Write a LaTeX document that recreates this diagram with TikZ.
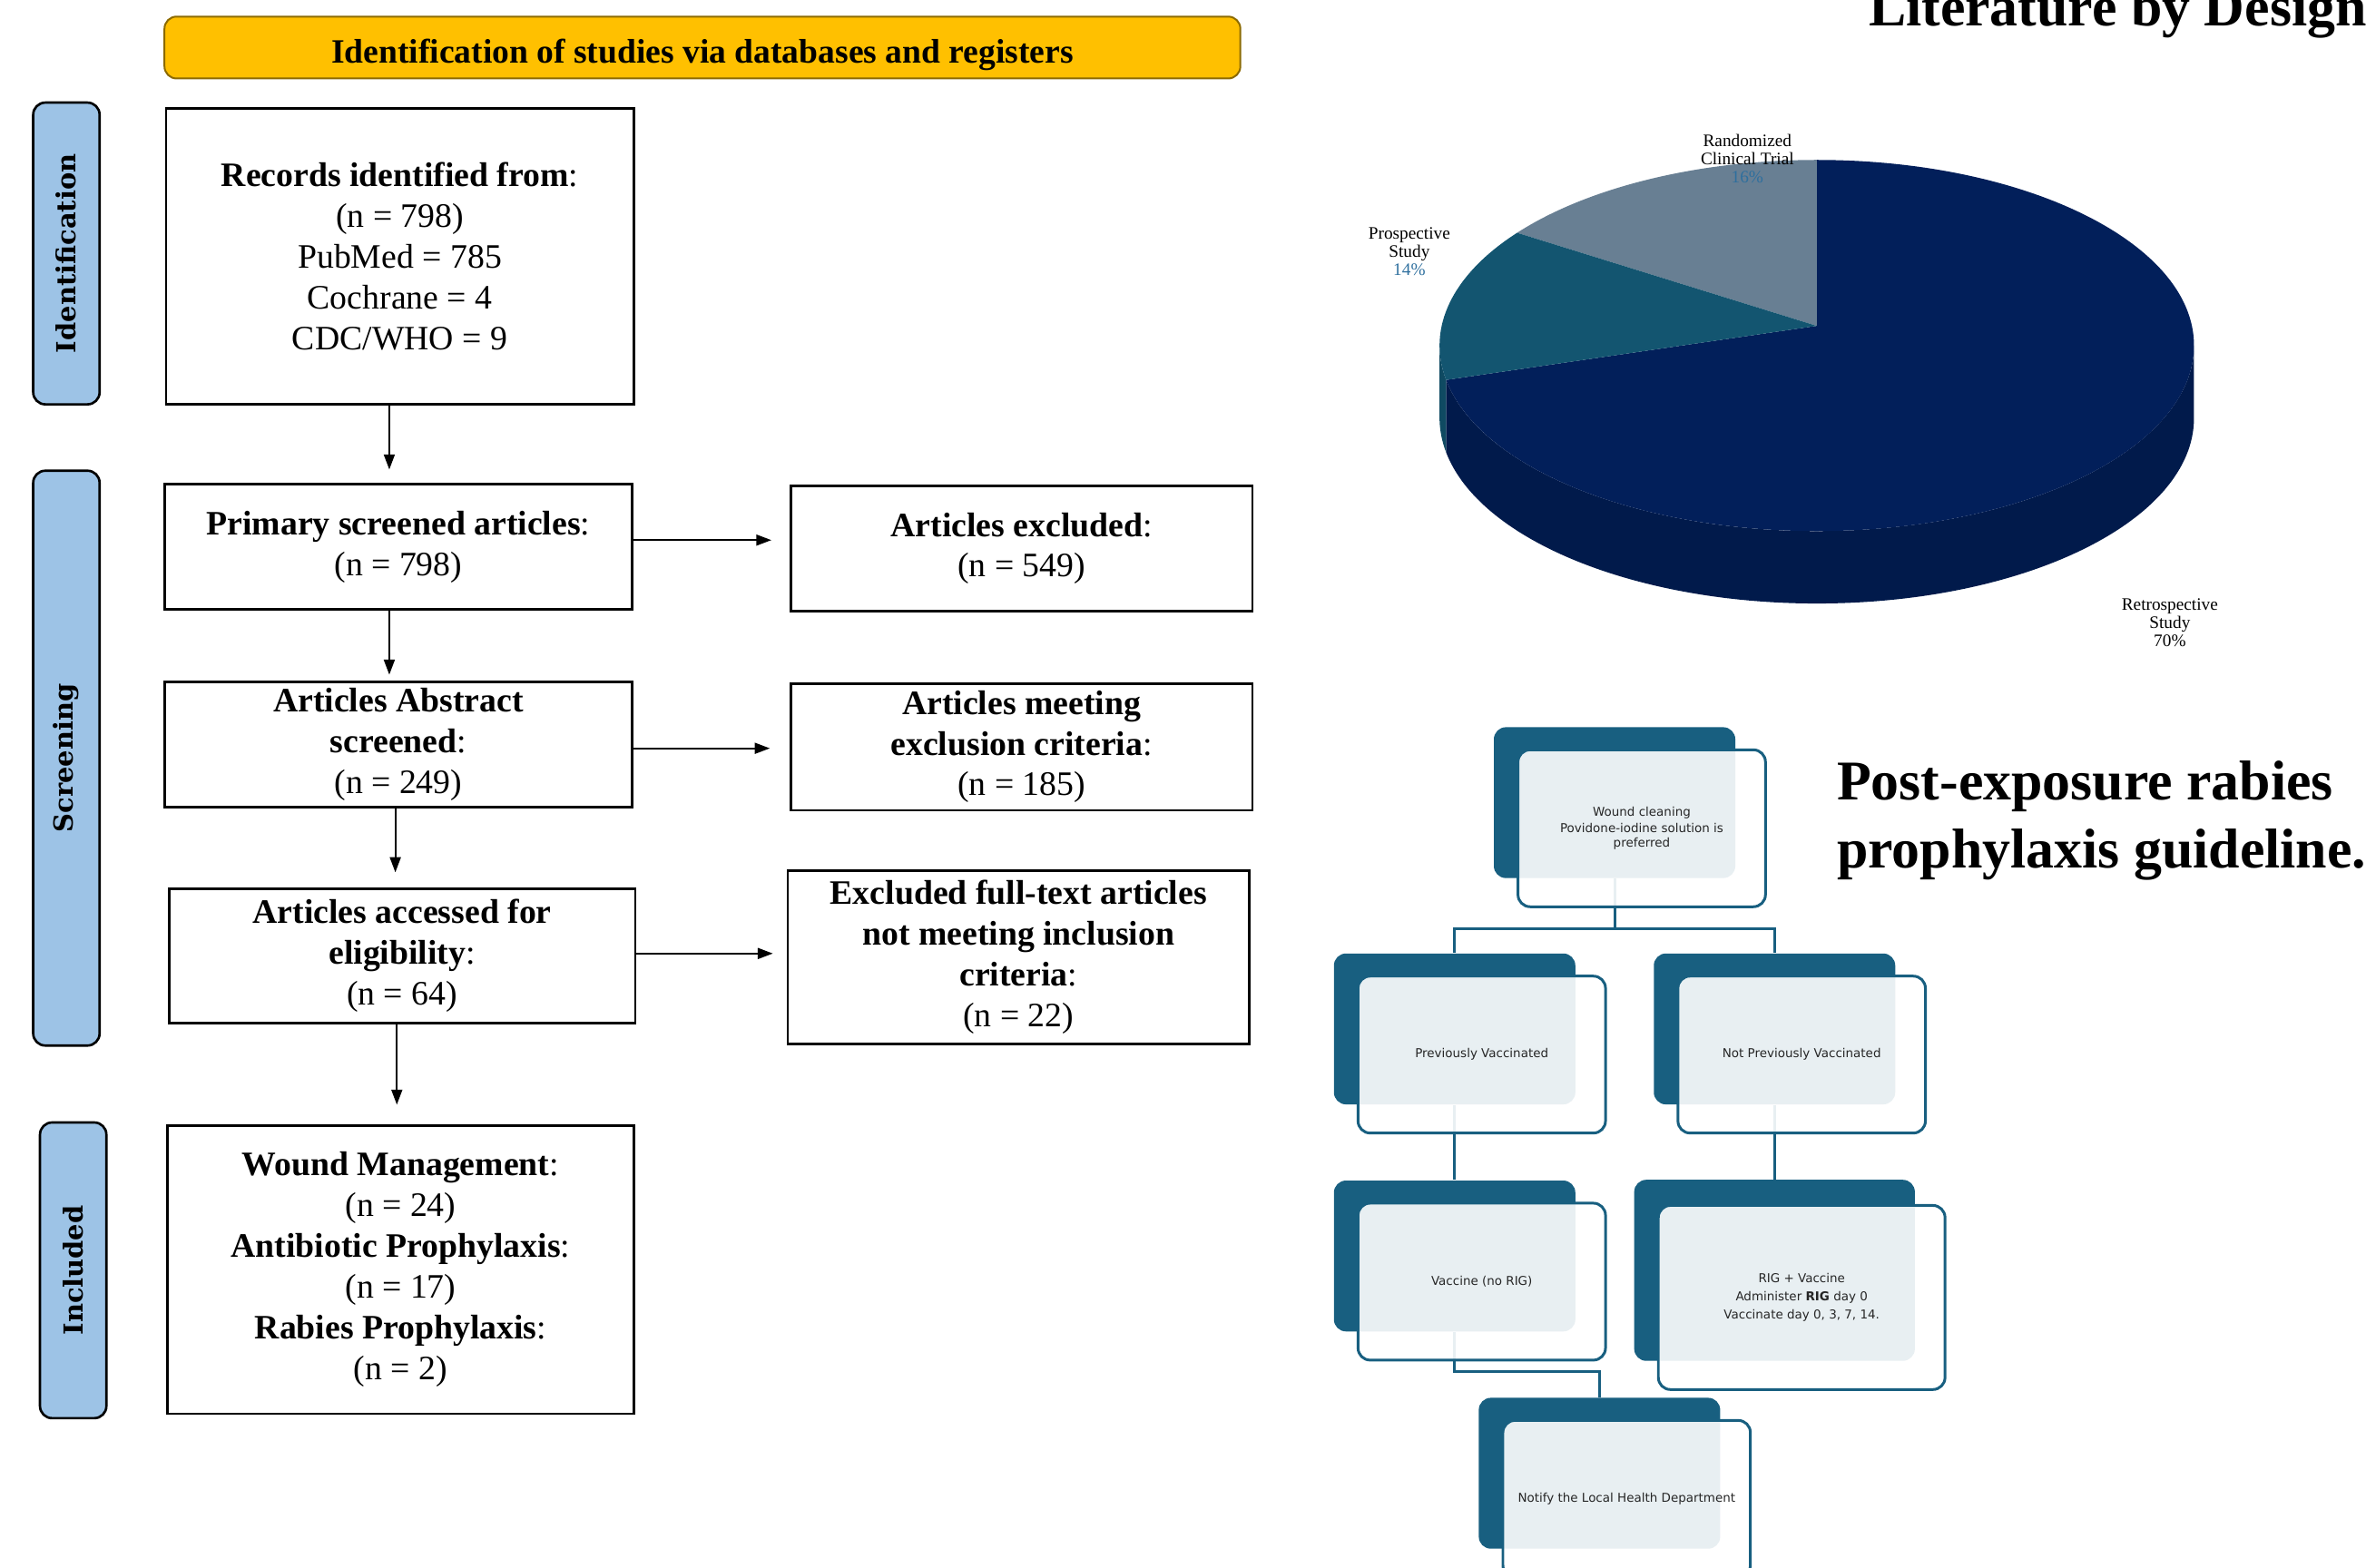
\documentclass[tikz,border=0pt]{standalone}
\usepackage{fontspec}
\setmainfont{Liberation Serif}
\newfontfamily\stagefont{DejaVu Serif}
\newfontfamily\artfont{DejaVu Sans}
\usetikzlibrary{arrows.meta,positioning,calc}

\definecolor{headgold}{HTML}{FFC000}
\definecolor{headedge}{HTML}{8C6A00}
\definecolor{stageblue}{HTML}{9DC3E6}
\definecolor{artteal}{HTML}{185F80}
\definecolor{pienavy}{HTML}{021F5A}
\definecolor{pieside}{HTML}{011A4B}
\definecolor{pieteal}{HTML}{135570}
\definecolor{tealside}{HTML}{0F4A62}
\definecolor{piegray}{HTML}{687F93}
\definecolor{pctblue}{HTML}{2E6F9E}

\begin{document}
\begin{tikzpicture}[x=0.5pt,y=0.5pt,
  box/.style={draw, line width=0.8pt, align=center, inner sep=2pt, font=\fontsize{11.35}{13.5}\selectfont},
  stage/.style={draw, line width=0.8pt, fill=stageblue, rounded corners=4pt, rotate=90, minimum height=22pt, inner sep=0pt, font=\stagefont\bfseries\fontsize{8.7}{10}\selectfont},
  arr/.style={line width=0.6pt, -{Triangle[length=5pt,width=3.6pt]}},
  back/.style={fill=artteal, rounded corners=4pt, minimum width=80pt, minimum height=50pt},
  front/.style={draw=artteal, line width=0.9pt, fill=white, fill opacity=0.9, text opacity=1, rounded corners=4pt, minimum width=82pt, minimum height=52pt, align=center, text=black!85, font=\artfont\fontsize{4.05}{4.9}\selectfont, xshift=9pt, yshift=-8.5pt},
  link/.style={draw=artteal, line width=0.9pt},
  pielbl/.style={align=center, font=\fontsize{5.8}{6}\selectfont, inner sep=0pt},
  title/.style={font=\bfseries\fontsize{18.6}{22.5}\selectfont, inner sep=0pt, anchor=base west}
]
\useasboundingbox (0,0) rectangle (1568,-1039);
\clip (0,0) rectangle (1568,-1039);

% PRISMA flow
\node[draw=headedge, fill=headgold, rounded corners=4pt, line width=0.6pt, minimum width=356.5pt, minimum height=20.5pt, font=\bfseries\fontsize{11.3}{12}\selectfont] (head) at (465.5,-31.5) {\raisebox{-5.3pt}[0pt][0pt]{Identification of studies via databases and registers}};

\node[stage, minimum width=100pt] (sident) at (44,-168) {Identification};
\node[stage, minimum width=190.5pt] (sscreen) at (44,-502.5) {Screening};
\node[stage, minimum width=98pt] (sincl) at (48.5,-842) {Included};

\node[box, minimum width=155pt, minimum height=98pt] (rec) at (265,-170)
  {\textbf{Records identified from}:\\(n = 798)\\PubMed = 785\\Cochrane = 4\\CDC/WHO = 9};
\node[box, minimum width=155pt, minimum height=41.5pt] (prim) at (264,-362.5)
  {\textbf{Primary screened articles}:\\(n = 798)};
\node[box, minimum width=153pt, minimum height=41.5pt] (excl) at (677,-363.5)
  {\textbf{Articles excluded}:\\(n = 549)};
\node[box, minimum width=155pt, minimum height=41.5pt] (abs) at (264,-493.5)
  {\textbf{Articles Abstract}\\\textbf{screened}:\\(n = 249)};
\node[box, minimum width=153pt, minimum height=42pt] (meet) at (677,-495)
  {\textbf{Articles meeting}\\\textbf{exclusion criteria}:\\(n = 185)};
\node[box, minimum width=154.5pt, minimum height=44.5pt] (elig) at (266.5,-633.5)
  {\textbf{Articles accessed for}\\\textbf{eligibility}:\\(n = 64)};
\node[box, minimum width=153pt, minimum height=57.5pt] (full) at (675,-634.5)
  {\textbf{Excluded full-text articles}\\\textbf{not meeting inclusion}\\\textbf{criteria}:\\(n = 22)};
\node[box, minimum width=154.5pt, minimum height=95.5pt] (incl) at (265.5,-841.5)
  {\textbf{Wound Management}:\\(n = 24)\\\textbf{Antibiotic Prophylaxis}:\\(n = 17)\\\textbf{Rabies Prophylaxis}:\\(n = 2)};

\draw[arr, shorten >=4.5pt] ([xshift=-3.5pt]rec.south) -- ([xshift=-3.5pt]rec.south |- prim.north);
\draw[arr, shorten >=2pt] ([xshift=-3pt]prim.south) -- ([xshift=-3pt]prim.south |- abs.north);
\draw[arr, shorten >=5pt] ([xshift=-1pt]abs.south) -- ([xshift=-1pt]abs.south |- elig.north);
\draw[arr, shorten >=6.5pt] ([xshift=-1.75pt]elig.south) -- ([xshift=-1.75pt]elig.south |- incl.north);
\draw[arr, shorten >=6pt] ([yshift=2.25pt]prim.east) -- ([yshift=2.25pt]prim.east -| excl.west);
\draw[arr, shorten >=6.5pt] ([yshift=-1.25pt]abs.east) -- ([yshift=-1.25pt]abs.east -| meet.west);
\draw[arr, shorten >=4.5pt] ([yshift=0.75pt]elig.east) -- ([yshift=0.75pt]elig.east -| full.west);

% pie chart
\node[title] (pietitle) at (1238,-17) {Literature by Design};
\coordinate (pc) at (1204,-229);
\coordinate (pa) at (1204,-216);
\fill[pieside] ($(pc)+(190.7:125pt and 61.5pt)$) arc[start angle=190.7, end angle=360, x radius=125pt, y radius=61.5pt]
  -- ++(0,-24pt) arc[start angle=360, end angle=190.7, x radius=125pt, y radius=61.5pt] -- cycle;
\fill[tealside] ($(pc)+(180:125pt and 61.5pt)$) arc[start angle=180, end angle=190.7, x radius=125pt, y radius=61.5pt]
  -- ++(0,-24pt) arc[start angle=190.7, end angle=180, x radius=125pt, y radius=61.5pt] -- cycle;
\fill[pienavy] (pa) -- ($(pc)+(90:125pt and 61.5pt)$) arc[start angle=90, end angle=-169.3, x radius=125pt, y radius=61.5pt] -- cycle;
\fill[piegray] (pa) -- ($(pc)+(90:125pt and 61.5pt)$) arc[start angle=90, end angle=142.6, x radius=125pt, y radius=61.5pt] -- cycle;
\fill[pieteal] (pa) -- ($(pc)+(142.6:125pt and 61.5pt)$) arc[start angle=142.6, end angle=190.7, x radius=125pt, y radius=61.5pt] -- cycle;

\node[pielbl] (lrct) at (1158,-105) {Randomized\\Clinical Trial\\\textcolor{pctblue}{16\%}};
\node[pielbl] (lpro) at (934,-167) {Prospective\\Study\\\textcolor{pctblue}{14\%}};
\node[pielbl] (lret) at (1438,-413) {Retrospective\\Study\\70\%};

% rabies guideline
\node[title] (pe1) at (1217,-530) {Post-exposure rabies};
\node[title] (pe2) at (1217,-575) {prophylaxis guideline.};

\node[back] (wb) at (1070,-532) {};
\node[back] (pvb) at (964,-682) {};
\node[back] (npvb) at (1176,-682) {};
\node[back] (vacb) at (964,-832.5) {};
\node[back, minimum width=93pt, minimum height=60pt] (rigb) at (1176,-842) {};
\node[back] (hdb) at (1060,-976.5) {};

\draw[link] (wb.south) -- ++(0,-16.5pt) coordinate (wbar) -| (pvb.north);
\draw[link] (wbar) -| (npvb.north);
\draw[link] (pvb.south) -- (vacb.north);
\draw[link] (npvb.south) -- (rigb.north);
\draw[link] (vacb.south) -- ++(0,-13pt) -| (hdb.north);

\node[front] (w) at (wb) {Wound cleaning\\[0.6pt]Povidone-iodine solution is\\preferred};
\node[front] (pv) at (pvb) {Previously Vaccinated};
\node[front] (npv) at (npvb) {Not Previously Vaccinated};
\node[front] (vac) at (vacb) {Vaccine (no RIG)};
\node[front, minimum width=95pt, minimum height=61pt, yshift=-0.5pt] (rig) at (rigb) {RIG + Vaccine\\[1pt]Administer \textbf{RIG} day 0\\[1pt]Vaccinate day 0, 3, 7, 14.};
\node[front] (hd) at (hdb) {Notify the Local Health Department};
\end{tikzpicture}
\end{document}
